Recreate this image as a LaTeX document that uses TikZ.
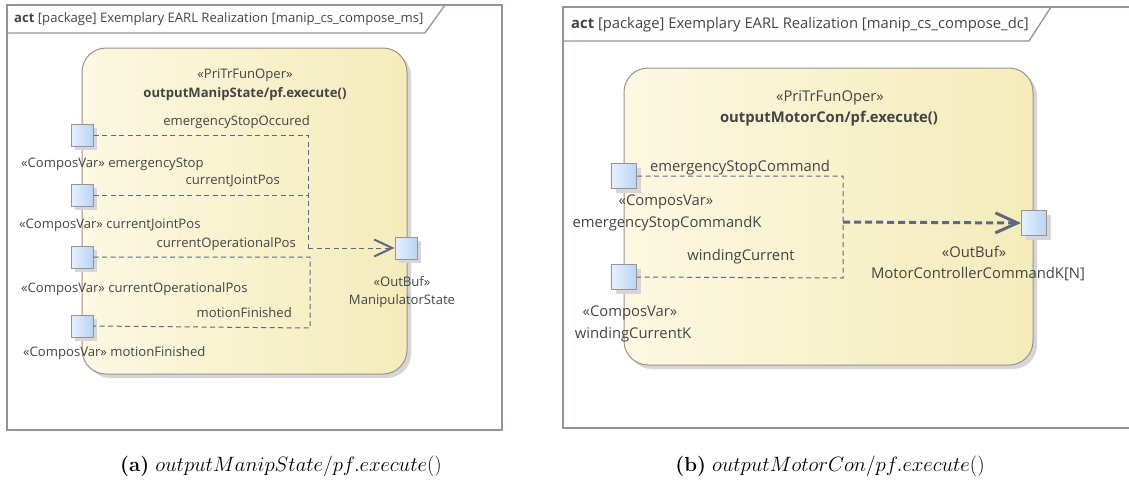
\documentclass[tikz,border=0pt]{standalone}
\usepackage{fontspec}
\newfontfamily\eafont{Open Sans}
\usetikzlibrary{arrows.meta}
\usetikzlibrary{shadows}

\definecolor{frameline}{HTML}{9E9090}
\definecolor{actL}{HTML}{FCF8E2}
\definecolor{actR}{HTML}{F4ECBA}
\definecolor{portL}{HTML}{E6F1FD}
\definecolor{portR}{HTML}{B8D4F4}
\definecolor{flowline}{HTML}{5E6884}
\definecolor{txtgray}{HTML}{444444}

\tikzset{
  frame/.style={draw=frameline, line width=1.3pt},
  shadowed/.style={drop shadow={shadow xshift=4pt, shadow yshift=-4pt, fill=black!16, opacity=1}},
  action/.style={draw=frameline, line width=1pt, rounded corners=24pt, left color=actL, right color=actR, shadowed},
  port/.style={draw=frameline, line width=1pt, inner sep=0pt, minimum size=#1, left color=portL, right color=portR, shadowed},
  port/.default=22pt,
  lbl/.style={font=\eafont\fontsize{13.1}{15}\selectfont, text=txtgray, inner sep=0pt},
  boldlbl/.style={lbl, font=\eafont\bfseries\fontsize{13.1}{15}\selectfont},
  lblB/.style={lbl, font=\eafont\fontsize{14.8}{17}\selectfont},
  boldlblB/.style={lbl, font=\eafont\bfseries\fontsize{14.8}{17}\selectfont},
  flow/.style={draw=flowline, line width=1pt, dash pattern=on 5pt off 3.5pt},
  flowthick/.style={draw=flowline, line width=3pt, dash pattern=on 7pt off 4pt},
}

\begin{document}
\begin{tikzpicture}[x=1pt, y=-1pt]
        \useasboundingbox (0,0) rectangle (1129,483);

        % left frame (a)
        \draw[frame] (7,5) rectangle (502,430);
        \draw[frame] (7,33) -- (425,33) -- (445,5);
        \node[lbl, anchor=west] (titleA) at (14,19) {\textbf{act} [package] Exemplary EARL Realization [manip\_cs\_compose\_ms]};

        % action of (a)
        \path[action] (82,48) rectangle (407,374);
        \node[lbl] (stereoA) at (245,75) {«PriTrFunOper»};
        \node[boldlbl] (nameA) at (245,94) {outputManipState/pf.execute()};

        % input pins of (a)
        \node[port] (esA) at (82,135) {};
        \node[port] (cjA) at (82,195) {};
        \node[port] (coA) at (82,257) {};
        \node[port] (mfA) at (82,326) {};
        \node[lbl, anchor=west] (esAlbl) at (21,164) {«ComposVar» emergencyStop};
        \node[lbl, anchor=west] (cjAlbl) at (19,225) {«ComposVar» currentJointPos};
        \node[lbl, anchor=west] (coAlbl) at (21,289) {«ComposVar» currentOperationalPos};
        \node[lbl, anchor=west] (mfAlbl) at (23,353) {«ComposVar» motionFinished};

        % output pin of (a)
        \node[port] (outA) at (406,248) {};
        \node[lbl] (outAst) at (402,282) {«OutBuf»};
        \node[lbl] (outAlbl) at (402,301) {ManipulatorState};

        % flows of (a)
        \coordinate (joinA) at (308,248);
        \coordinate (bendA) at (310,328);
        \draw[flow] (esA.east) -| (joinA);
        \draw[flow] (cjA.east) -- (cjA.east -| joinA);
        \draw[flow] (coA.east) -| (bendA) -- (mfA.east);
        \draw[flow, -{Straight Barb[length=18pt, width=17pt, line width=2pt]}] (joinA) -- (outA.west);
        \node[lbl, anchor=east] (esAflow) at (310,122) {emergencyStopOccured};
        \node[lbl, anchor=east] (cjAflow) at (280,181) {currentJointPos};
        \node[lbl, anchor=east] (coAflow) at (296,244) {currentOperationalPos};
        \node[lbl, anchor=east] (mfAflow) at (292,313) {motionFinished};

        % right frame (b)
        \draw[frame] (563,7) rectangle (1140,428);
        \draw[frame] (563,41) -- (1029,41) -- (1051,7);
        \node[lblB, anchor=west] (titleB) at (571,25) {\textbf{act} [package] Exemplary EARL Realization [manip\_cs\_compose\_dc]};

        % action of (b)
        \path[action] (624,68) rectangle (1033,365);
        \node[lblB] (stereoB) at (830,98) {«PriTrFunOper»};
        \node[boldlblB] (nameB) at (829,119) {outputMotorCon/pf.execute()};

        % pins of (b)
        \node[port=25pt] (escB) at (624,176) {};
        \node[port=25pt] (wcB) at (624,277) {};
        \node[port=25pt] (outB) at (1034,223) {};
        \node[lblB] (escBst) at (666,202) {«ComposVar»};
        \node[lblB] (escBlbl) at (667,224) {emergencyStopCommandK};
        \node[lblB] (wcBst) at (630,313) {«ComposVar»};
        \node[lblB] (wcBlbl) at (633,335) {windingCurrentK};
        \node[lblB] (outBst) at (974,252) {«OutBuf»};
        \node[lblB] (outBlbl) at (978,274) {MotorControllerCommandK[N]};

        % flows of (b)
        \coordinate (joinB) at (843,278);
        \coordinate (tapB) at (843,222);
        \draw[flow] (escB.east) -| (joinB) -- (wcB.east);
        \draw[flowthick, -{Straight Barb[length=22pt, width=20pt, line width=3pt]}] (tapB) -- (outB.west);
        \node[lblB] (escBflow) at (740,168) {emergencyStopCommand};
        \node[lblB] (wcBflow) at (741,257) {windingCurrent};

        % captions
        \node[font=\fontsize{20.4}{24}\selectfont] (capA) at (281,466) {\textbf{(a)} $outputManipState/pf.execute()$};
        \node[font=\fontsize{20.4}{24}\selectfont] (capB) at (830,466) {\textbf{(b)} $outputMotorCon/pf.execute()$};
\end{tikzpicture}
\end{document}
